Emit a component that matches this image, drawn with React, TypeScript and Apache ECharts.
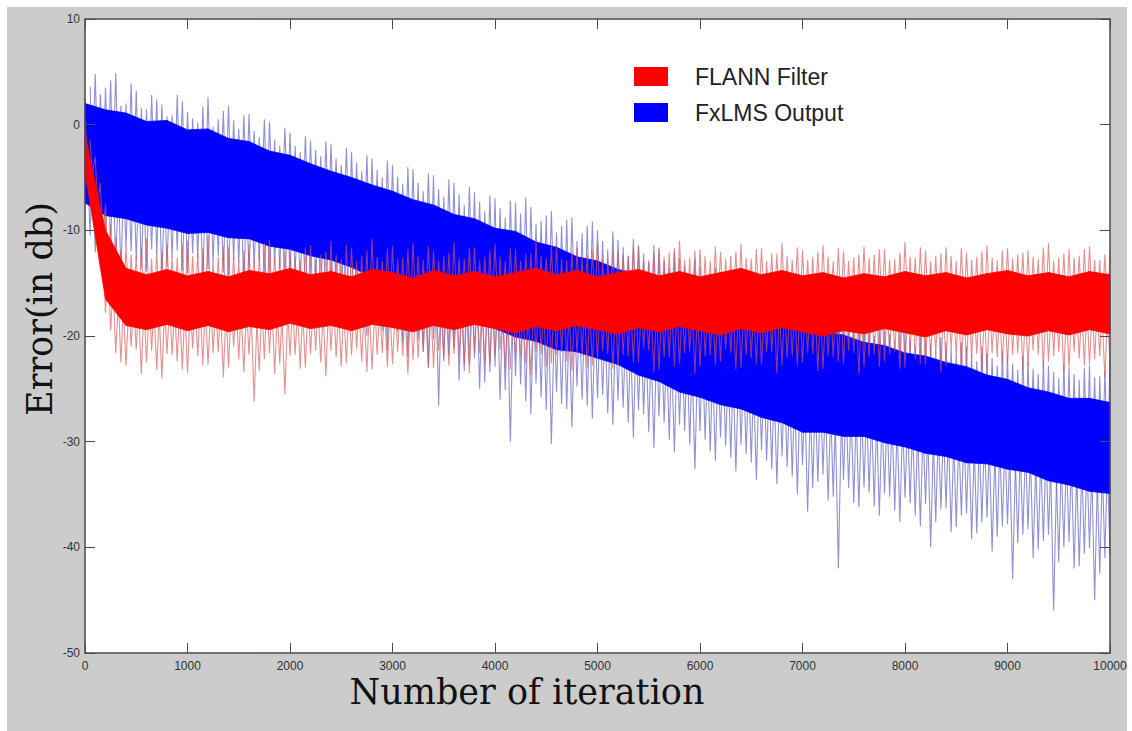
import React, { useEffect, useRef } from "react";
import * as echarts from "echarts";

// Spikes: each zigzag alternates an upward spike and a downward spike every 50 iterations.
// Set A starts at iteration 0, set B at iteration 50. Core band vertices every 200 iterations.
const SPIKE_STEP = 100;
const CORE_STEP = 200;

const X_MIN = 0;
const X_MAX = 10000;
const Y_MIN = -50;
const Y_MAX = 10;

const SERIES_NAMES = ["FLANN Filter", "FxLMS Output"];

// ---------- FxLMS Output (blue) ----------
const BLUE_UP_A = [
  2.5, 4.8, 3.5, 4.9, 2.0, 3.2, 1.5, 2.4, 0.8, 2.8,
  1.2, 0.2, 2.6, 0.5, 1.8, -0.4, 1.0, -1.2, 0.3, -2.0,
  -0.8, -2.6, -1.5, -3.0, -1.8, -3.8, -2.6, -4.4, -3.2, -5.0,
  -3.8, -5.6, -4.2, -6.3, -4.8, -6.8, -5.5, -7.6, -6.4, -8.2,
  -7.0, -8.8, -7.4, -6.9, -9.4, -8.6, -10.2, -9.0, -11.0, -9.6,
  -10.0, -11.8, -10.9, -12.4, -11.5, -13.0, -11.8, -13.5, -12.6, -14.2,
  -13.4, -15.0, -14.0, -15.6, -14.8, -16.2, -15.3, -17.0, -16.0, -17.6,
  -16.8, -18.2, -17.4, -18.8, -18.0, -19.4, -18.6, -20.0, -19.0, -20.4,
  -19.6, -21.0, -20.2, -21.4, -20.6, -21.8, -21.0, -22.4, -21.6, -22.8,
  -21.8, -23.2, -22.4, -23.6, -22.8, -24.0, -23.0, -24.2, -22.8, -23.8,
  -22.5,
];
const BLUE_DOWN_A = [
  -10.5, -13.0, -11.5, -14.2, -12.0, -13.6, -11.8, -14.5, -12.6, -13.8,
  -12.2, -14.8, -13.0, -14.0, -12.8, -15.2, -13.4, -14.6, -13.2, -15.6,
  -14.0, -16.0, -14.8, -17.2, -15.8, -18.4, -17.0, -20.0, -18.6, -21.4,
  -19.6, -22.0, -20.4, -23.0, -26.6, -21.8, -24.2, -22.6, -25.0, -23.4,
  -26.0, -30.0, -24.6, -27.4, -25.8, -30.2, -26.4, -28.6, -26.0, -27.8,
  -25.6, -28.4, -26.8, -29.6, -27.4, -30.6, -28.2, -31.0, -29.0, -32.6,
  -29.8, -31.8, -30.4, -32.8, -31.2, -33.6, -31.8, -34.0, -32.4, -35.0,
  -36.6, -33.8, -35.6, -42.0, -34.4, -36.2, -34.8, -37.0, -35.2, -37.6,
  -35.8, -38.0, -40.0, -36.4, -38.6, -37.0, -39.2, -37.6, -40.4, -38.0,
  -43.0, -38.8, -41.0, -39.4, -46.0, -40.0, -42.0, -40.6, -45.0, -41.0,
];
const BLUE_UP_B = [
  3.6, 2.9, 4.2, 1.8, 3.9, 1.6, 2.8, 1.9, 0.9, 2.2,
  0.6, 1.7, -0.2, 1.3, 0.4, 0.9, -0.6, 0.5, -1.4, -0.3,
  -2.0, -1.1, -2.4, -1.6, -3.2, -2.2, -3.6, -2.9, -4.3, -3.4,
  -4.9, -4.0, -5.5, -4.6, -6.1, -5.2, -6.6, -5.9, -7.3, -6.7,
  -7.9, -7.2, -8.4, -7.8, -9.1, -8.2, -9.6, -8.8, -10.3, -9.2,
  -11.0, -10.1, -11.6, -10.8, -12.2, -11.4, -12.9, -12.0, -13.4, -12.7,
  -14.3, -13.5, -14.9, -14.1, -15.5, -14.9, -16.2, -15.6, -16.9, -16.1,
  -17.5, -16.9, -18.1, -17.6, -18.7, -18.1, -19.3, -18.8, -19.8, -19.2,
  -20.3, -19.7, -20.8, -20.1, -21.2, -20.6, -21.7, -21.0, -22.1, -21.4,
  -22.6, -21.9, -23.1, -22.3, -23.4, -22.7, -23.6, -23.0, -23.9, -23.2,
];
const BLUE_DOWN_B = [
  -12.1, -10.9, -13.4, -11.6, -12.8, -13.9, -12.2, -13.5, -11.9, -14.1,
  -12.6, -13.7, -12.4, -14.4, -13.1, -14.0, -12.9, -14.7, -13.6, -14.5,
  -15.2, -14.3, -16.4, -15.1, -17.3, -16.2, -18.6, -17.8, -19.5, -18.4,
  -20.6, -19.2, -21.5, -20.3, -22.4, -21.2, -23.3, -22.1, -24.4, -22.9,
  -25.1, -23.8, -26.2, -24.5, -27.0, -25.3, -26.9, -24.8, -26.6, -25.9,
  -27.3, -26.1, -28.2, -27.0, -29.1, -27.6, -29.8, -28.4, -30.3, -29.0,
  -30.9, -29.6, -31.5, -30.3, -32.0, -30.8, -32.6, -31.4, -33.3, -32.2,
  -34.4, -33.1, -35.2, -33.6, -35.8, -34.3, -36.1, -34.9, -36.5, -35.3,
  -37.0, -35.9, -37.6, -36.3, -38.1, -36.8, -38.7, -37.2, -39.0, -37.8,
  -39.6, -38.3, -40.2, -38.8, -41.4, -39.5, -41.8, -40.1, -42.5, -40.6,
];
const BLUE_CORE_HI = [
  2.0, 1.4, 1.1, 0.3, 0.4, -0.5, -0.4, -1.3, -1.6, -2.5,
  -2.9, -3.7, -4.4, -5.0, -5.7, -6.3, -7.1, -7.6, -8.5, -8.9,
  -9.8, -10.1, -11.1, -11.6, -12.5, -12.9, -13.7, -14.1, -14.9, -15.3,
  -16.1, -16.5, -17.3, -17.7, -18.5, -18.9, -19.6, -19.9, -20.6, -20.9,
  -21.6, -21.9, -22.5, -22.9, -23.7, -24.1, -24.9, -25.3, -25.9, -25.9,
  -26.3,
];
const BLUE_CORE_LO = [
  -7.4, -8.6, -8.9, -9.5, -9.8, -10.3, -10.2, -10.7, -10.8, -11.5,
  -11.8, -12.4, -12.8, -13.5, -14.4, -15.6, -16.2, -17.1, -17.7, -18.7,
  -19.3, -20.1, -20.5, -21.3, -21.5, -22.1, -22.7, -23.7, -24.3, -25.3,
  -25.8, -26.5, -26.9, -27.7, -28.2, -29.1, -29.1, -29.5, -29.5, -30.1,
  -30.5, -31.1, -31.4, -32.0, -32.1, -32.6, -32.9, -33.7, -34.1, -34.7,
  -34.9,
];

// ---------- FLANN Filter (red) ----------
const RED_UP_A = [
  0.5, -3.0, -7.5, -10.6, -11.5, -12.4, -10.8, -12.0, -11.2, -12.6,
  -11.0, -12.2, -10.4, -12.5, -11.6, -12.8, -11.3, -12.1, -10.9, -12.6,
  -11.8, -12.9, -11.4, -12.3, -11.0, -12.7, -11.7, -12.4, -10.8, -12.9,
  -11.5, -12.6, -11.2, -12.8, -11.9, -12.4, -11.1, -12.7, -11.6, -12.5,
  -11.3, -12.9, -11.8, -12.2, -11.0, -12.6, -11.5, -12.8, -11.7, -12.3,
  -11.2, -12.7, -11.9, -12.4, -11.4, -12.8, -11.6, -12.1, -11.0, -12.6,
  -11.8, -12.9, -12.0, -12.4, -11.3, -12.7, -11.7, -12.2, -11.2, -12.8,
  -11.9, -12.5, -11.4, -12.9, -12.0, -12.6, -11.5, -12.3, -11.8, -12.7,
  -11.1, -12.6, -11.9, -12.4, -11.6, -12.9, -12.1, -12.5, -11.4, -12.8,
  -11.7, -12.3, -11.9, -12.7, -11.2, -12.6, -11.8, -12.4, -11.5, -12.8,
  -12.0,
];
const RED_DOWN_A = [
  -6.0, -13.5, -19.5, -22.5, -21.0, -23.6, -21.4, -24.0, -21.8, -23.2,
  -21.2, -22.8, -21.6, -23.9, -21.0, -23.4, -26.2, -22.2, -23.6, -25.5,
  -21.8, -23.0, -21.4, -23.8, -22.0, -22.6, -21.2, -23.4, -21.8, -22.9,
  -21.5, -23.6, -22.1, -23.0, -21.4, -22.8, -21.9, -23.5, -21.6, -22.7,
  -21.3, -23.2, -22.0, -23.7, -21.7, -22.6, -21.5, -23.3, -21.9, -22.8,
  -21.4, -23.1, -21.8, -22.5, -21.2, -23.4, -22.0, -22.9, -21.6, -23.6,
  -21.9, -22.7, -21.3, -23.2, -21.8, -22.6, -21.5, -23.5, -22.1, -22.8,
  -21.6, -23.3, -21.9, -22.4, -21.4, -23.6, -22.0, -22.9, -21.7, -23.1,
  -21.5, -22.6, -21.9, -23.4, -21.3, -22.8, -22.0, -23.5, -21.6, -22.7,
  -21.8, -23.2, -21.4, -22.9, -21.9, -23.6, -21.5, -22.8, -22.2, -24.0,
];
const RED_UP_B = [
  -1.5, -5.5, -9.4, -11.8, -12.3, -11.6, -12.7, -11.9, -12.5, -11.4,
  -12.4, -11.7, -12.9, -11.5, -12.3, -11.9, -12.7, -11.2, -12.4, -11.8,
  -12.6, -11.6, -12.8, -12.0, -12.3, -11.4, -12.9, -11.9, -12.5, -11.7,
  -12.7, -11.8, -12.4, -11.5, -12.9, -12.1, -12.6, -11.6, -12.8, -11.9,
  -12.5, -11.7, -12.9, -12.2, -12.4, -11.5, -12.7, -12.0, -12.6, -11.8,
  -12.8, -11.9, -12.3, -11.6, -12.9, -12.1, -12.5, -11.7, -12.8, -11.9,
  -12.4, -11.5, -12.7, -12.0, -12.6, -11.8, -12.9, -12.2, -12.4, -11.6,
  -12.8, -12.0, -12.5, -11.7, -12.9, -12.3, -12.6, -11.8, -12.8, -12.1,
  -12.5, -11.6, -12.9, -12.2, -12.4, -11.7, -12.8, -12.0, -12.6, -11.9,
  -12.7, -12.1, -12.5, -11.6, -12.9, -12.2, -12.6, -11.8, -12.8, -12.3,
];
const RED_DOWN_B = [
  -9.5, -17.8, -21.6, -22.8, -21.3, -22.5, -23.2, -21.7, -22.4, -23.5,
  -21.9, -22.7, -21.5, -23.0, -22.2, -21.8, -23.3, -21.6, -22.6, -21.9,
  -23.1, -21.7, -22.5, -21.4, -22.9, -21.8, -22.4, -23.2, -21.6, -22.7,
  -21.9, -22.3, -21.5, -23.0, -22.1, -21.7, -22.8, -21.6, -22.4, -21.8,
  -23.1, -22.0, -22.6, -21.5, -22.9, -21.8, -22.4, -21.6, -23.0, -22.2,
  -21.7, -22.8, -21.9, -22.5, -21.4, -23.2, -22.0, -22.6, -21.5, -22.9,
  -21.8, -22.4, -21.6, -23.0, -22.1, -22.7, -21.5, -22.8, -21.9, -22.5,
  -21.7, -23.1, -22.0, -22.6, -21.6, -22.9, -21.8, -22.4, -21.5, -23.0,
  -22.2, -22.7, -21.6, -22.8, -21.9, -22.5, -21.7, -23.2, -22.0, -22.6,
  -21.6, -22.9, -21.8, -22.4, -21.5, -23.0, -22.1, -22.7, -21.9, -22.5,
];
const RED_CORE_HI = [
  -1.0, -10.0, -13.6, -14.2, -13.7, -14.3, -13.9, -14.4, -13.8, -14.1,
  -13.6, -14.2, -13.9, -14.4, -13.7, -14.0, -14.5, -13.8, -14.3, -13.9,
  -14.4, -14.0, -13.6, -14.2, -13.8, -14.4, -14.0, -13.7, -14.3, -13.9,
  -14.4, -14.0, -13.6, -14.2, -13.8, -14.3, -14.0, -14.5, -14.1, -14.4,
  -13.9, -14.3, -14.0, -14.5, -14.1, -13.8, -14.3, -14.0, -14.4, -13.9,
  -14.2,
];
const RED_CORE_LO = [
  -4.5, -16.5, -19.0, -19.4, -18.9, -19.5, -19.0, -19.6, -19.1, -19.4,
  -18.8, -19.3, -19.0, -19.5, -18.9, -19.2, -19.6, -19.0, -19.4, -18.9,
  -19.3, -19.7, -19.1, -19.5, -19.0, -19.4, -19.8, -19.2, -19.6, -19.1,
  -19.5, -19.9, -19.3, -19.7, -19.2, -19.6, -20.0, -19.5, -19.8, -19.3,
  -19.7, -20.1, -19.5, -19.9, -19.4, -19.8, -20.0, -19.5, -19.9, -19.4,
  -19.8,
];

function zigzag(up: number[], down: number[], offset: number) {
  const pts: number[][] = [];
  for (let i = 0; i < up.length; i++) {
    pts.push([offset + i * SPIKE_STEP, up[i]]);
    if (i < down.length) pts.push([offset + i * SPIKE_STEP + SPIKE_STEP / 2, down[i]]);
  }
  return pts;
}
// one band segment per item: [x0, hi0, lo0, x1, hi1, lo1]
function bandSegments(hi: number[], lo: number[]) {
  const segs: number[][] = [];
  for (let i = 0; i + 1 < hi.length; i++) {
    segs.push([i * CORE_STEP, hi[i], lo[i], (i + 1) * CORE_STEP, hi[i + 1], lo[i + 1]]);
  }
  return segs;
}

function spikeLine(name: string, color: string, spikeColor: string, data: number[][], z: number) {
  return {
    type: "line",
    name,
    z,
    symbol: "none",
    showSymbol: false,
    silent: true,
    itemStyle: { color },
    data,
    lineStyle: { color: spikeColor, width: 1.1 },
  };
}

function makeSeries(
  name: string, color: string, spikeColor: string,
  upA: number[], downA: number[], upB: number[], downB: number[], hi: number[], lo: number[], zBase: number
) {
  return [
    spikeLine(name, color, spikeColor, zigzag(upA, downA, 0), zBase),
    spikeLine(name, color, spikeColor, zigzag(upB, downB, SPIKE_STEP / 2), zBase),
    {
      type: "custom",
      name,
      z: zBase + 1,
      silent: true,
      itemStyle: { color },
      encode: { x: [0, 3], y: [1, 2, 4, 5] },
      data: bandSegments(hi, lo),
      renderItem: (params: any, api: any) => {
        const x0 = api.value(0), h0 = api.value(1), l0 = api.value(2);
        const x1 = api.value(3), h1 = api.value(4), l1 = api.value(5);
        const pts = [api.coord([x0, h0]), api.coord([x1, h1]), api.coord([x1, l1]), api.coord([x0, l0])];
        return {
          type: "polygon",
          shape: { points: pts },
          style: { fill: color, stroke: color, lineWidth: 0.8 },
        };
      },
    },
  ];
}

const AXIS_COLOR = "#4a4a4a";

export default function App() {
  const ref = useRef<HTMLDivElement>(null);
  useEffect(() => {
    if (!ref.current) return;
    const chart = echarts.init(ref.current, undefined, { renderer: "svg" });
    const tick = { show: true, inside: true, length: 10, lineStyle: { color: AXIS_COLOR, width: 1 } };
    const line = { show: true, onZero: false, lineStyle: { color: AXIS_COLOR, width: 1.5 } };
    const label = { color: "#333", fontSize: 12, fontFamily: "Liberation Sans, Arial, sans-serif" };
    chart.setOption({
      animation: false,
      backgroundColor: "#ffffff",
      grid: { left: 85, right: 22, top: 19, bottom: 78, show: true, backgroundColor: "#ffffff", borderWidth: 0 },
      graphic: [
        { type: "rect", z: -100, shape: { x: 7, y: 7, width: 1120, height: 724 }, style: { fill: "#cccccc" }, silent: true },
        {
          type: "text",
          x: 527,
          y: 692,
          style: { text: "Number of iteration", font: '35px "DejaVu Serif", serif', fill: "#111", align: "center", verticalAlign: "middle" },
        },
        {
          type: "text",
          x: 40,
          y: 309,
          rotation: Math.PI / 2,
          style: { text: "Error(in db)", font: '35px "DejaVu Serif", serif', fill: "#111", align: "center", verticalAlign: "middle" },
        },
      ],
      legend: {
        data: [
          { name: SERIES_NAMES[0], icon: "rect", itemStyle: { color: "#ff0000" } },
          { name: SERIES_NAMES[1], icon: "rect", itemStyle: { color: "#0000ff" } },
        ],
        orient: "vertical",
        left: 629,
        top: 60,
        itemWidth: 34,
        itemHeight: 19,
        itemGap: 13,
        z: 20,
        selectedMode: false,
        textStyle: { fontSize: 23, color: "#222", fontFamily: "Liberation Sans, Arial, sans-serif", padding: [0, 0, 0, 22] },
      },
      xAxis: [
        {
          type: "value", min: X_MIN, max: X_MAX, interval: 1000, position: "bottom", z: 20,
          axisLine: line, axisTick: tick, splitLine: { show: false },
          axisLabel: { ...label, margin: 7, formatter: (v: number) => String(v) },
        },
        {
          type: "value", min: X_MIN, max: X_MAX, interval: 1000, position: "top", z: 20,
          axisLine: line, axisTick: tick, splitLine: { show: false }, axisLabel: { show: false },
        },
      ],
      yAxis: [
        {
          type: "value", min: Y_MIN, max: Y_MAX, interval: 10, position: "left", z: 20,
          axisLine: line, axisTick: tick, splitLine: { show: false },
          axisLabel: { ...label, margin: 5, formatter: (v: number) => String(v) },
        },
        {
          type: "value", min: Y_MIN, max: Y_MAX, interval: 10, position: "right", z: 20,
          axisLine: line, axisTick: tick, splitLine: { show: false }, axisLabel: { show: false },
        },
      ],
      series: [
        ...makeSeries(SERIES_NAMES[1], "#0000ff", "rgba(70,70,185,0.6)",
          BLUE_UP_A, BLUE_DOWN_A, BLUE_UP_B, BLUE_DOWN_B, BLUE_CORE_HI, BLUE_CORE_LO, 2),
        ...makeSeries(SERIES_NAMES[0], "#ff0000", "rgba(215,85,85,0.65)",
          RED_UP_A, RED_DOWN_A, RED_UP_B, RED_DOWN_B, RED_CORE_HI, RED_CORE_LO, 4),
      ],
    });
    return () => chart.dispose();
  }, []);
  return (
    <div style={{ position: "fixed", left: 0, top: 0, width: 1132, height: 731, background: "#fff" }}>
      <div ref={ref} style={{ width: 1132, height: 731 }} />
    </div>
  );
}
